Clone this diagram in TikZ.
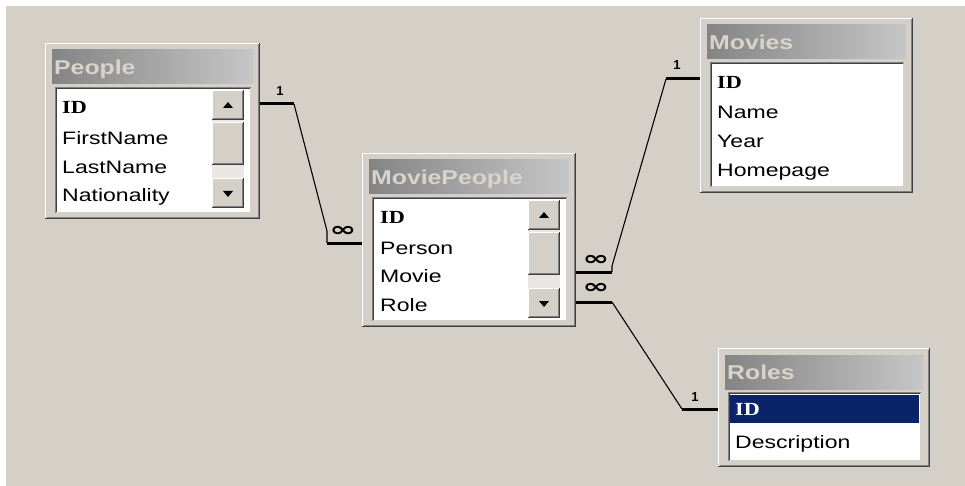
\documentclass[tikz,border=0pt]{standalone}
\usepackage{fontspec}
\setmainfont{Liberation Sans}
\newfontfamily\rowfont[FakeStretch=1.28]{Liberation Sans}
\newfontfamily\titlefont[FakeStretch=1.24]{Liberation Sans}
\newfontfamily\idfont[FakeStretch=1.2]{Liberation Serif}
\newfontfamily\symfont[FakeStretch=1.6]{DejaVu Sans}
\definecolor{bg}{HTML}{D4D0C8}
\definecolor{navy}{HTML}{0A246A}
\definecolor{tbl}{HTML}{848484}
\definecolor{tbr}{HTML}{C6C6C6}
\definecolor{ttext}{HTML}{D8D4CC}
\definecolor{shadowc}{HTML}{808080}
\definecolor{dkshadow}{HTML}{404040}
\definecolor{track}{HTML}{E9E7E3}
\tikzset{
 rowtxt/.style={anchor=base west, inner sep=0pt, font=\rowfont\fontsize{18}{20}\selectfont},
 idtxt/.style={anchor=base west, inner sep=0pt, font=\idfont\bfseries\fontsize{18.5}{20}\selectfont},
 titletxt/.style={anchor=base west, inner sep=0pt, text=ttext, font=\titlefont\bfseries\fontsize{20}{22}\selectfont},
 lbl/.style={inner sep=0pt, font=\bfseries\fontsize{13}{14}\selectfont},
 inflbl/.style={inner sep=0pt, font=\symfont\bfseries\fontsize{20}{20}\selectfont},
 stub/.style={line width=3pt, black},
 rel/.style={line width=1.1pt, black},
 winbox/.style={draw=none, fill=bg, anchor=north west, inner sep=0pt},
}
% name, x1, y1, x2, y2, title
\newcommand\dbwin[6]{%
 \node[winbox, minimum width={(#4-#2)*1pt}, minimum height={(#5-#3)*1pt}] (#1) at (#2,#3) {};
 \draw[white, line width=1pt] (#2+0.5,#5-1) -- (#2+0.5,#3+0.5) -- (#4-1,#3+0.5);
 \draw[shadowc, line width=1pt] (#2+1.5,#5-1.5) -- (#4-1.5,#5-1.5) -- (#4-1.5,#3+1.5);
 \draw[dkshadow, line width=1.2pt] (#2,#5-0.5) -- (#4-0.5,#5-0.5) -- (#4-0.5,#3);
 \shade[left color=tbl, right color=tbr] (#2+7,#3+7) rectangle (#4-7,#3+41);
 \node[titletxt] (#1-title) at (#2+9,#3+24+7.5) {#6};
 \fill[white] (#2+10,#3+44) rectangle (#4-9,#5-6);
 \draw[shadowc, line width=1pt] (#2+10.5,#5-6) -- (#2+10.5,#3+44.5) -- (#4-9,#3+44.5);
 \draw[dkshadow, line width=1pt] (#2+11.5,#5-7) -- (#2+11.5,#3+45.5) -- (#4-10,#3+45.5);
 \draw[bg, line width=1pt] (#2+11,#5-6.5) -- (#4-9.5,#5-6.5) -- (#4-9.5,#3+45);
}
\newcommand\rbtn[4]{%
 \fill[bg] (#1,#2) rectangle (#3,#4);
 \draw[white, line width=1pt] (#1+0.5,#4-1) -- (#1+0.5,#2+0.5) -- (#3-1,#2+0.5);
 \draw[shadowc, line width=1pt] (#1+1,#4-1.5) -- (#3-1.5,#4-1.5) -- (#3-1.5,#2+1);
 \draw[dkshadow, line width=1pt] (#1,#4-0.5) -- (#3-0.5,#4-0.5) -- (#3-0.5,#2);
}
% right edge of list, top of list
\newcommand\scrollbar[2]{%
 \fill[track] (#1-39,#2+3) rectangle (#1-7,#2+121);
 \rbtn{#1-39}{#2+3}{#1-7}{#2+33}
 \fill[black] (#1-28,#2+21) -- (#1-18,#2+21) -- (#1-23,#2+15) -- cycle;
 \rbtn{#1-39}{#2+35}{#1-7}{#2+78}
 \rbtn{#1-39}{#2+91}{#1-7}{#2+121}
 \fill[black] (#1-28,#2+104) -- (#1-18,#2+104) -- (#1-23,#2+110) -- cycle;
}
\begin{document}
\begin{tikzpicture}[x=1pt,y=-1pt]
\useasboundingbox (0,0) rectangle (965,486);
\fill[white] (0,0) rectangle (965,486);
\fill[bg] (6,6) rectangle (965,486);

% People
\dbwin{people}{45}{43}{260}{219}{People}
\scrollbar{251}{87}
\node[idtxt] (pe-id) at (62,114) {ID};
\node[rowtxt] (pe-fn) at (62,144.5) {FirstName};
\node[rowtxt] (pe-ln) at (62,173.5) {LastName};
\node[rowtxt] (pe-na) at (62,201.5) {Nationality};

% MoviePeople
\dbwin{mp}{362}{153}{576}{327}{MoviePeople}
\scrollbar{567}{197}
\node[idtxt] (mp-id) at (380,224) {ID};
\node[rowtxt] (mp-pe) at (380,254.5) {Person};
\node[rowtxt] (mp-mo) at (380,282.5) {Movie};
\node[rowtxt] (mp-ro) at (380,311.5) {Role};

% Movies
\dbwin{movies}{700}{18}{913}{193}{Movies}
\node[idtxt] (mo-id) at (717,89) {ID};
\node[rowtxt] (mo-na) at (717,118.5) {Name};
\node[rowtxt] (mo-ye) at (717,147.5) {Year};
\node[rowtxt] (mo-hp) at (717,176.5) {Homepage};

% Roles
\dbwin{roles}{718}{348}{930}{467}{Roles}
\fill[navy] (730,395) rectangle (919,423);
\node[idtxt, text=white] (ro-id) at (735,415) {ID};
\node[rowtxt] (ro-de) at (735,448.5) {Description};

% connectors
\coordinate (c1a) at (people.east |- 0,104);
\coordinate (c1b) at (294,104);
\coordinate (c1c) at (327,231);
\coordinate (c1d) at (327,243);
\coordinate (c1e) at (mp.west |- 0,243);
\draw[stub] (c1a) -- (c1b);
\draw[rel] (c1b) -- (c1c) -- (c1d);
\draw[stub] (c1d) -- (c1e);

\coordinate (c2a) at (mp.east |- 0,272);
\coordinate (c2b) at (612,272);
\coordinate (c2c) at (612,266);
\coordinate (c2d) at (666,79);
\coordinate (c2e) at (movies.west |- 0,79);
\draw[stub] (c2a) -- (c2b);
\draw[rel] (c2b) -- (c2c) -- (c2d);
\draw[stub] (c2d) -- (c2e);

\coordinate (c3a) at (mp.east |- 0,302);
\coordinate (c3b) at (612,302);
\coordinate (c3c) at (682,409);
\coordinate (c3d) at (roles.west |- 0,409);
\draw[stub] (c3a) -- (c3b);
\draw[rel] (c3b) -- (c3c);
\draw[stub] (c3c) -- (c3d);

\node[lbl] (l1) at (280,91) {1};
\node[inflbl] (l2) at (343,231) {∞};
\node[inflbl] (l3) at (596,260) {∞};
\node[inflbl] (l4) at (596,288) {∞};
\node[lbl] (l5) at (677,65) {1};
\node[lbl] (l6) at (695,397) {1};
\end{tikzpicture}
\end{document}
